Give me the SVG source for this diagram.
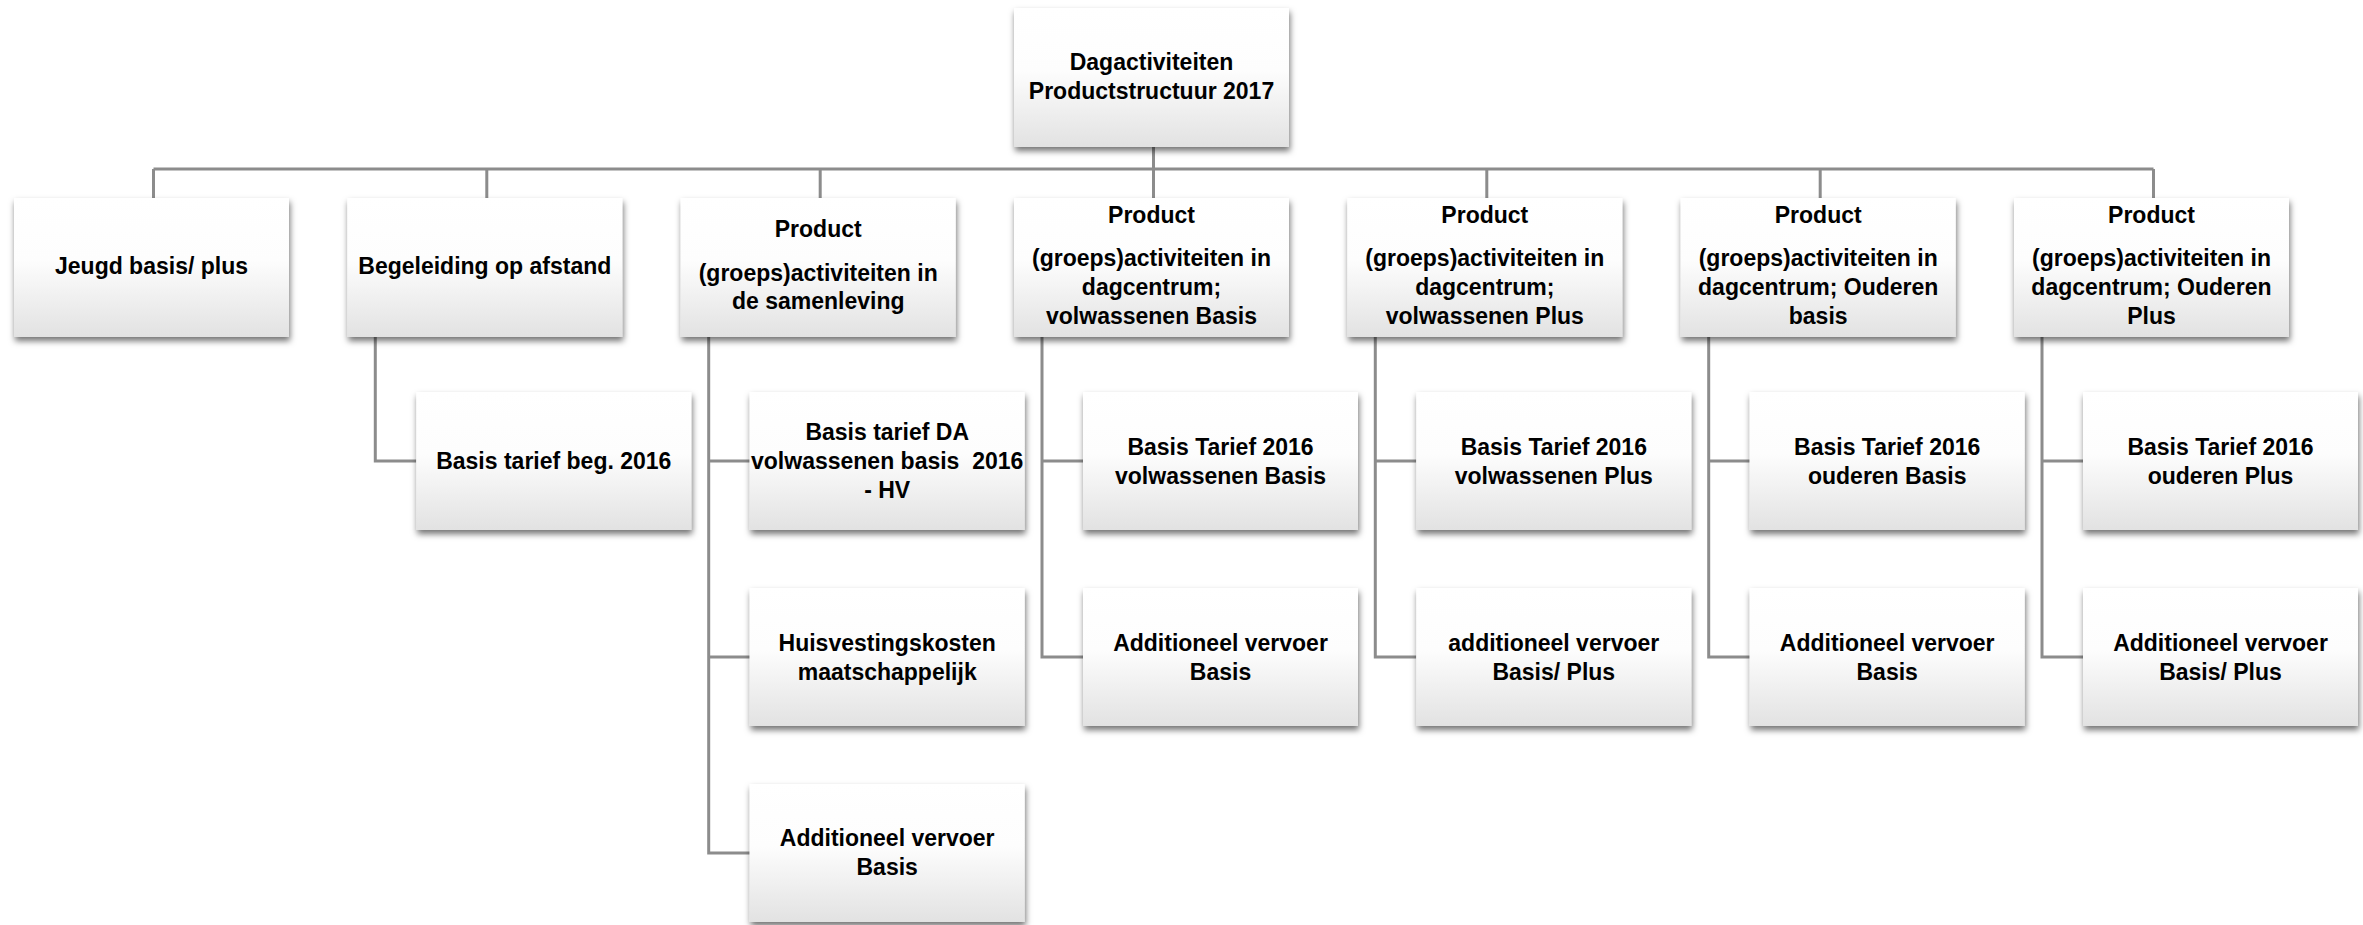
<svg xmlns="http://www.w3.org/2000/svg" width="2363" height="925" viewBox="0 0 2363 925">
<style>
.box{fill:url(#g);filter:url(#sh)}
.t{font-family:"Liberation Sans",Arial,sans-serif;font-weight:bold;font-size:23px;fill:#000;text-anchor:middle}
.c{fill:none;stroke:#8c8c8c;stroke-width:3}
</style>
<defs>
<linearGradient id="g" x1="0" y1="0" x2="0" y2="1">
<stop offset="0" stop-color="#ffffff"/>
<stop offset="0.45" stop-color="#fdfdfd"/>
<stop offset="1" stop-color="#e2e2e2"/>
</linearGradient>
<filter id="sh" x="-10%" y="-10%" width="120%" height="130%">
<feDropShadow dx="1" dy="4" stdDeviation="3" flood-color="#000" flood-opacity="0.55"/>
</filter>
</defs>
<rect width="2363" height="925" fill="#fff"/>
<g id="connectors">
<path class="c" d="M1153.5 147 V169 M153.5 169 H2153.5 M153.5 169 V198 M486.8 169 V198 M820.2 169 V198 M1153.5 169 V198 M1486.8 169 V198 M1820.2 169 V198 M2153.5 169 V198"/>
<path class="c" d="M375.3 337 V461 H416.3"/>
<path class="c" d="M708.7 337 V853 H749.7 M708.7 461 H749.7 M708.7 657 H749.7"/>
<path class="c" d="M1042 337 V657 H1083 M1042 461 H1083"/>
<path class="c" d="M1375.3 337 V657 H1416.3 M1375.3 461 H1416.3"/>
<path class="c" d="M1708.7 337 V657 H1749.7 M1708.7 461 H1749.7"/>
<path class="c" d="M2042 337 V657 H2083 M2042 461 H2083"/>
</g>
<g id="root">
<rect class="box" x="1014" y="8" width="275" height="139"/>
<text class="t" x="1151.5" y="70">Dagactiviteiten</text>
<text class="t" x="1151.5" y="99">Productstructuur 2017</text>
</g>
<g id="jeugd">
<rect class="box" x="14" y="198" width="275" height="139"/>
<text class="t" x="151.5" y="274">Jeugd basis/ plus</text>
</g>
<g id="begeleiding">
<rect class="box" x="347.3" y="198" width="275" height="139"/>
<text class="t" x="484.8" y="274">Begeleiding op afstand</text>
</g>
<g id="samenleving">
<rect class="box" x="680.7" y="198" width="275" height="139"/>
<text class="t" x="818.2" y="237">Product</text>
<text class="t" x="818.2" y="281">(groeps)activiteiten in</text>
<text class="t" x="818.2" y="309">de samenleving</text>
</g>
<g id="volw-basis">
<rect class="box" x="1014" y="198" width="275" height="139"/>
<text class="t" x="1151.5" y="223">Product</text>
<text class="t" x="1151.5" y="266">(groeps)activiteiten in</text>
<text class="t" x="1151.5" y="295">dagcentrum;</text>
<text class="t" x="1151.5" y="324">volwassenen Basis</text>
</g>
<g id="volw-plus">
<rect class="box" x="1347.3" y="198" width="275" height="139"/>
<text class="t" x="1484.8" y="223">Product</text>
<text class="t" x="1484.8" y="266">(groeps)activiteiten in</text>
<text class="t" x="1484.8" y="295">dagcentrum;</text>
<text class="t" x="1484.8" y="324">volwassenen Plus</text>
</g>
<g id="ouderen-basis">
<rect class="box" x="1680.7" y="198" width="275" height="139"/>
<text class="t" x="1818.2" y="223">Product</text>
<text class="t" x="1818.2" y="266">(groeps)activiteiten in</text>
<text class="t" x="1818.2" y="295">dagcentrum; Ouderen</text>
<text class="t" x="1818.2" y="324">basis</text>
</g>
<g id="ouderen-plus">
<rect class="box" x="2014" y="198" width="275" height="139"/>
<text class="t" x="2151.5" y="223">Product</text>
<text class="t" x="2151.5" y="266">(groeps)activiteiten in</text>
<text class="t" x="2151.5" y="295">dagcentrum; Ouderen</text>
<text class="t" x="2151.5" y="324">Plus</text>
</g>
<g id="beg-basis">
<rect class="box" x="416.3" y="392" width="275" height="138"/>
<text class="t" x="553.8" y="469">Basis tarief beg. 2016</text>
</g>
<g id="sam-basis">
<rect class="box" x="749.7" y="392" width="275" height="138"/>
<text class="t" x="887.2" y="440">Basis tarief DA</text>
<text class="t" x="887.2" y="469" xml:space="preserve" style="white-space:pre">volwassenen basis  2016</text>
<text class="t" x="887.2" y="498">- HV</text>
</g>
<g id="sam-huis">
<rect class="box" x="749.7" y="588" width="275" height="138"/>
<text class="t" x="887.2" y="651">Huisvestingskosten</text>
<text class="t" x="887.2" y="680">maatschappelijk</text>
</g>
<g id="sam-vervoer">
<rect class="box" x="749.7" y="784" width="275" height="138"/>
<text class="t" x="887.2" y="846">Additioneel vervoer</text>
<text class="t" x="887.2" y="875">Basis</text>
</g>
<g id="vb-tarief">
<rect class="box" x="1083" y="392" width="275" height="138"/>
<text class="t" x="1220.5" y="455">Basis Tarief 2016</text>
<text class="t" x="1220.5" y="484">volwassenen Basis</text>
</g>
<g id="vb-vervoer">
<rect class="box" x="1083" y="588" width="275" height="138"/>
<text class="t" x="1220.5" y="651">Additioneel vervoer</text>
<text class="t" x="1220.5" y="680">Basis</text>
</g>
<g id="vp-tarief">
<rect class="box" x="1416.3" y="392" width="275" height="138"/>
<text class="t" x="1553.8" y="455">Basis Tarief 2016</text>
<text class="t" x="1553.8" y="484">volwassenen Plus</text>
</g>
<g id="vp-vervoer">
<rect class="box" x="1416.3" y="588" width="275" height="138"/>
<text class="t" x="1553.8" y="651">additioneel vervoer</text>
<text class="t" x="1553.8" y="680">Basis/ Plus</text>
</g>
<g id="ob-tarief">
<rect class="box" x="1749.7" y="392" width="275" height="138"/>
<text class="t" x="1887.2" y="455">Basis Tarief 2016</text>
<text class="t" x="1887.2" y="484">ouderen Basis</text>
</g>
<g id="ob-vervoer">
<rect class="box" x="1749.7" y="588" width="275" height="138"/>
<text class="t" x="1887.2" y="651">Additioneel vervoer</text>
<text class="t" x="1887.2" y="680">Basis</text>
</g>
<g id="op-tarief">
<rect class="box" x="2083" y="392" width="275" height="138"/>
<text class="t" x="2220.5" y="455">Basis Tarief 2016</text>
<text class="t" x="2220.5" y="484">ouderen Plus</text>
</g>
<g id="op-vervoer">
<rect class="box" x="2083" y="588" width="275" height="138"/>
<text class="t" x="2220.5" y="651">Additioneel vervoer</text>
<text class="t" x="2220.5" y="680">Basis/ Plus</text>
</g>
</svg>
